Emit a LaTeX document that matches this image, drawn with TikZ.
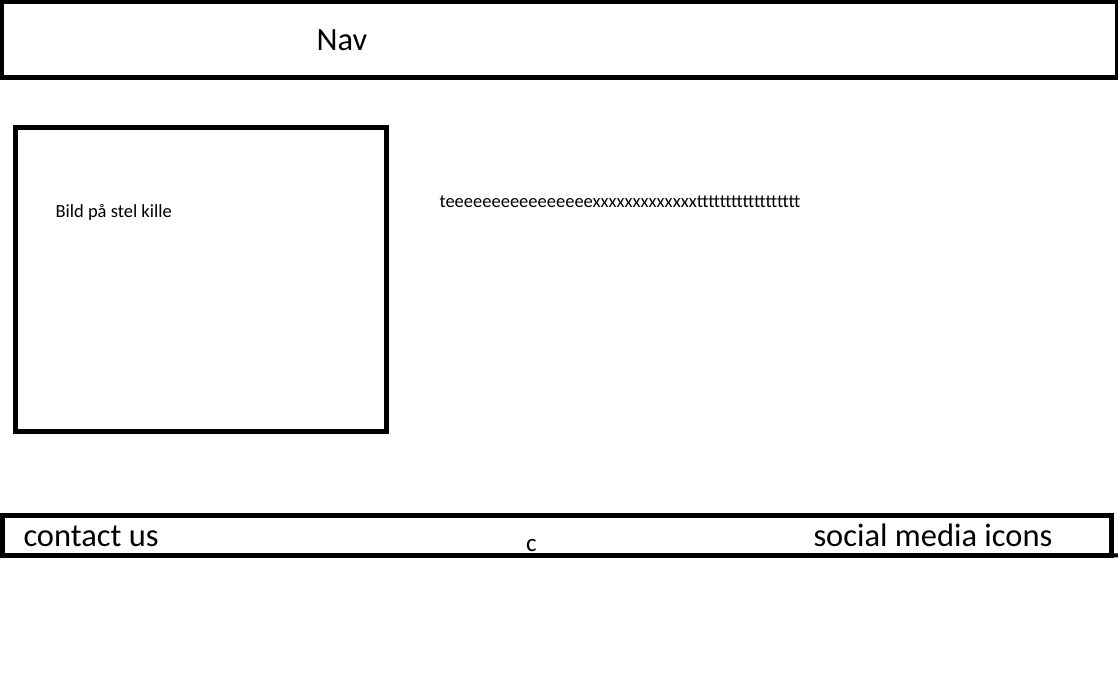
\documentclass[tikz,border=0pt]{standalone}
\usepackage{fontspec}
\setmainfont{Carlito}
\begin{document}
\begin{tikzpicture}[x=1pt,y=-1pt,
  box/.style={draw=black, line width=5pt, inner sep=0pt, outer sep=0pt},
  lbl/.style={anchor=base west, inner sep=0pt, outer sep=0pt, text=black},
  big/.style={lbl, font=\fontsize{32.5}{38}\selectfont},
  small/.style={lbl, font=\fontsize{18.5}{22}\selectfont}]
\useasboundingbox (0,0) rectangle (1118,677);
% Nav bar
\node[box, line width=5.5pt, minimum width=1117pt, minimum height=76.5pt] (nav) at (559.5,39.25) {};
\node[big] (navtext) at (316.5,51) {Nav};
% Image box
\node[box, minimum width=371pt, minimum height=303.5pt] (img) at (201,279.25) {};
\node[small] (imgtext) at (55.6,217) {Bild på stel kille};
% Body text
\node[small] (bodytext) at (439.5,207) {teeeeeeeeeeeeeeeexxxxxxxxxxxxxtttttttttttttttttt};
% Footer
\node[box, minimum width=1109.5pt, minimum height=39.8pt] (foot) at (556.75,535.4) {};
\coordinate (footend) at (1118,555.3);
\draw[line width=4pt] (foot.south east) -- (footend);
\node[big] (contact) at (23.5,546) {contact us};
\node[lbl, font=\fontsize{25}{30}\selectfont] (ctext) at (526,551) {c};
\node[big] (social) at (813.5,546.7) {social media icons};
\end{tikzpicture}
\end{document}
